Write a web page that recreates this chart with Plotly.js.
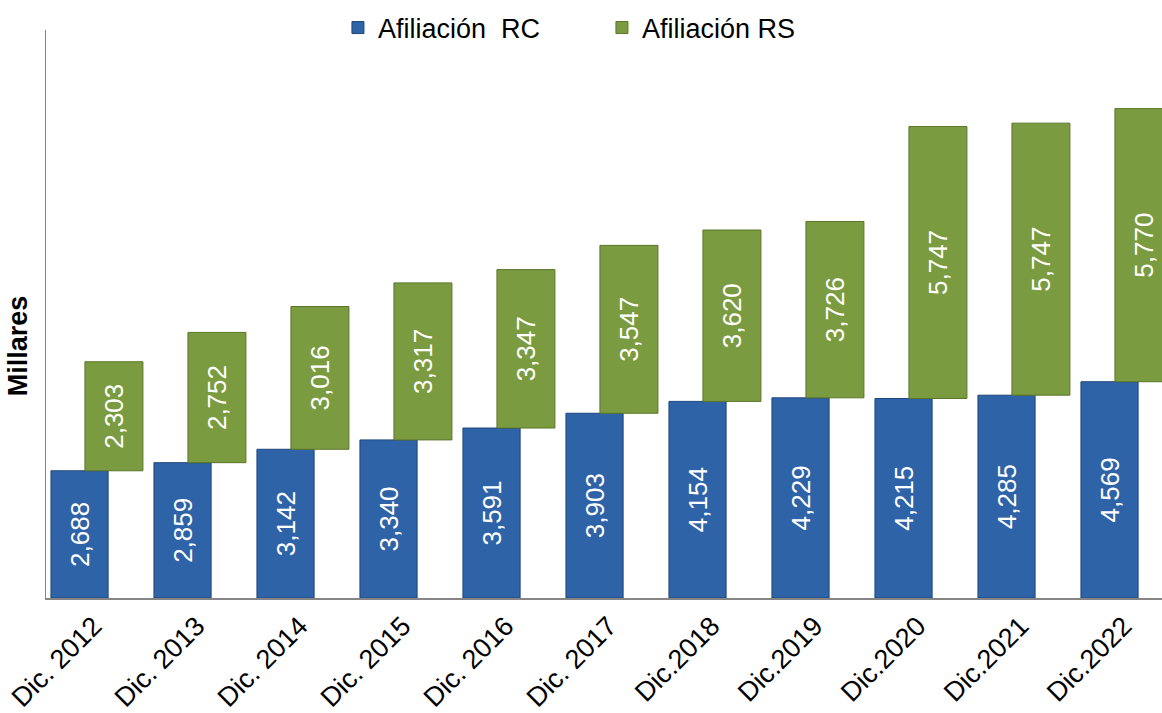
<!DOCTYPE html>
<html>
<head>
<meta charset="utf-8">
<script src="https://cdn.plot.ly/plotly-3.0.1.min.js"></script>
<style>html,body{margin:0;padding:0;background:#fff;}#chart{width:1162px;height:713px;}</style>
</head>
<body>
<div id="chart"></div>
<script>
const categories = ["Dic. 2012","Dic. 2013","Dic. 2014","Dic. 2015","Dic. 2016","Dic. 2017","Dic.2018","Dic.2019","Dic.2020","Dic.2021","Dic.2022"];
const afiliacionRC = [2688, 2859, 3142, 3340, 3591, 3903, 4154, 4229, 4215, 4285, 4569];
const afiliacionRS = [2303, 2752, 3016, 3317, 3347, 3547, 3620, 3726, 5747, 5747, 5770];
const seriesNames = ["Afiliación  RC", "Afiliación RS"];

const idx = categories.map((_, i) => i);
const FONT = "Liberation Sans, Arial, sans-serif";

const traceRC = {
  type: 'bar', name: seriesNames[0], x: idx, y: afiliacionRC,
  width: 0.555, offset: -0.277,
  marker: {color: '#2F63A7', line: {color: '#1F477C', width: 1}},
  texttemplate: '%{y:,.0f}', textposition: 'inside', insidetextanchor: 'middle',
  textangle: -90, textfont: {family: FONT, size: 26, color: '#FFFFFF'},
  hoverinfo: 'skip'
};
const traceRS = {
  type: 'bar', name: seriesNames[1], x: idx, y: afiliacionRS, base: afiliacionRC,
  width: 0.563, offset: 0.053,
  marker: {color: '#7B9B40', line: {color: '#5B7529', width: 1}},
  texttemplate: '%{y:,.0f}', textposition: 'inside', insidetextanchor: 'middle',
  textangle: -90, textfont: {family: FONT, size: 26, color: '#FFFFFF'},
  hoverinfo: 'skip'
};

const layout = {
  width: 1162, height: 713,
  margin: {l: 46, r: 0, t: 30, b: 115},
  paper_bgcolor: '#FFFFFF', plot_bgcolor: '#FFFFFF',
  font: {family: FONT, size: 26, color: '#000000'},
  barmode: 'overlay',
  showlegend: true,
  legend: {
    orientation: 'h', x: 0.2616, xanchor: 'left', y: 1.0035, yanchor: 'middle',
    font: {family: FONT, size: 27, color: '#000000'},
    entrywidth: 219, entrywidthmode: 'pixels',
    bgcolor: 'rgba(0,0,0,0)', traceorder: 'normal'
  },
  xaxis: {
    range: [-0.325, 10.51],
    tickmode: 'array', tickvals: idx.map(i => i + 0.14), ticktext: categories,
    tickangle: -45, ticks: '', showgrid: false, zeroline: false,
    showline: true, linecolor: '#868686', linewidth: 1.5,
    tickfont: {family: FONT, size: 27, color: '#000000'}
  },
  yaxis: {
    range: [0, 12000], showticklabels: false, ticks: '', showgrid: false, zeroline: false,
    showline: true, linecolor: '#868686', linewidth: 1.5
  },
  annotations: [{
    text: '<b>Millares</b>', xref: 'paper', yref: 'paper',
    x: -0.0251, y: 0.445, xanchor: 'center', yanchor: 'middle',
    textangle: -90, showarrow: false,
    font: {family: FONT, size: 27, color: '#000000'}
  }]
};

Plotly.newPlot('chart', [traceRC, traceRS], layout, {staticPlot: true, displayModeBar: false});
</script>
</body>
</html>
